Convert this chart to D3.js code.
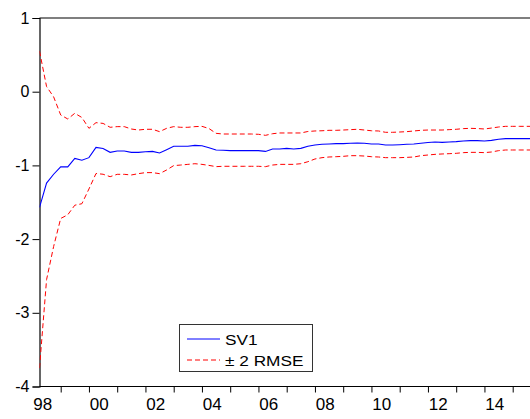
<!DOCTYPE html>
<html>
<head>
<meta charset="utf-8">
<script src="https://cdn.jsdelivr.net/npm/d3@7"></script>
<style>
  body { margin: 0; background: #fff; }
  text { font-family: Arial, "Liberation Sans", sans-serif; fill: #000; }
</style>
</head>
<body>
<svg id="chart" width="530" height="419"></svg>
<script>
// quarterly observations, first one is 1998Q2
const startYear = 1998;
const startQuarter = 2;

const sv1 = [-1.57, -1.24, -1.12, -1.02, -1.02, -0.905, -0.93, -0.895, -0.755, -0.77,
  -0.823, -0.805, -0.805, -0.823, -0.823, -0.814, -0.81, -0.832, -0.787, -0.741,
  -0.741, -0.741, -0.728, -0.733, -0.76, -0.791, -0.795, -0.8, -0.8, -0.8,
  -0.8, -0.8, -0.81, -0.778, -0.778, -0.769, -0.778, -0.769, -0.74, -0.723,
  -0.714, -0.71, -0.705, -0.705, -0.7, -0.696, -0.7, -0.71, -0.71, -0.723,
  -0.723, -0.719, -0.714, -0.71, -0.7, -0.69, -0.683, -0.687, -0.683, -0.678,
  -0.669, -0.664, -0.664, -0.669, -0.66, -0.646, -0.637, -0.637, -0.637, -0.637, -0.637];

const upper = [0.55, 0.07, -0.07, -0.316, -0.37, -0.293, -0.35, -0.497, -0.42, -0.43,
  -0.483, -0.474, -0.474, -0.506, -0.52, -0.51, -0.51, -0.542, -0.497, -0.474,
  -0.483, -0.483, -0.474, -0.47, -0.5, -0.565, -0.574, -0.574, -0.574, -0.574,
  -0.574, -0.578, -0.592, -0.57, -0.56, -0.56, -0.56, -0.56, -0.54, -0.533,
  -0.53, -0.524, -0.524, -0.52, -0.515, -0.51, -0.52, -0.53, -0.533, -0.551,
  -0.551, -0.547, -0.542, -0.533, -0.524, -0.52, -0.52, -0.52, -0.515, -0.51,
  -0.501, -0.497, -0.5, -0.506, -0.493, -0.479, -0.47, -0.47, -0.47, -0.47, -0.47];

const lower = [-3.75, -2.55, -2.1, -1.72, -1.67, -1.54, -1.52, -1.32, -1.11, -1.12,
  -1.153, -1.121, -1.121, -1.13, -1.112, -1.098, -1.098, -1.112, -1.062, -1.003,
  -0.995, -0.986, -0.977, -0.986, -1.0, -1.017, -1.012, -1.012, -1.012, -1.012,
  -1.012, -1.012, -1.017, -0.995, -0.986, -0.986, -0.986, -0.977, -0.95, -0.913,
  -0.895, -0.886, -0.882, -0.877, -0.868, -0.868, -0.873, -0.882, -0.886, -0.895,
  -0.895, -0.895, -0.891, -0.886, -0.868, -0.859, -0.85, -0.845, -0.841, -0.836,
  -0.827, -0.823, -0.823, -0.827, -0.818, -0.8, -0.791, -0.791, -0.791, -0.791, -0.791];

const yTicks = [1, 0, -1, -2, -3, -4];
const yearTicks = d3.range(1999, 2017);
const yearLabels = ["98", "00", "02", "04", "06", "08", "10", "12", "14"];
const legendNames = ["SV1", "\u00b1 2 RMSE"];

const svg = d3.select("#chart");
const plotLeft = 39.5, plotTop = 18, plotBottom = 386.5;
const yearWidth = 28.25;
const t0 = startYear + (startQuarter - 1) / 4;

const x = d3.scaleLinear().domain([t0, t0 + 18]).range([plotLeft, plotLeft + 18 * yearWidth]);
const y = d3.scaleLinear().domain([-4, 1]).range([plotBottom, plotTop]);

const toPoints = (vals) => vals.map((v, i) => ({ t: t0 + i / 4, v: v }));
const line = d3.line().x((d) => x(d.t)).y((d) => y(d.v));

// top border (right side runs off the picture)
svg.append("line").attr("x1", plotLeft).attr("x2", 530).attr("y1", plotTop).attr("y2", plotTop)
  .attr("stroke", "#000").attr("stroke-width", 1.2);

// plain hyphen for negatives, as in the original
const yAxis = d3.axisLeft(y).tickValues(yTicks).tickSize(7).tickPadding(3)
  .tickFormat((d) => String(d));
const gy = svg.append("g").attr("transform", `translate(${plotLeft},0)`).call(yAxis);
gy.select(".domain").attr("stroke-width", 1.2);
gy.selectAll("text").attr("font-size", 16).style("font-family", "Arial, 'Liberation Sans', sans-serif");

const xAxis = d3.axisBottom(x).tickValues(yearTicks.filter((t) => x(t) <= 530))
  .tickSize(6).tickFormat("");
const gx = svg.append("g").attr("transform", `translate(0,${plotBottom})`).call(xAxis);
gx.select(".domain").remove();
gx.append("line").attr("x1", plotLeft).attr("x2", 530).attr("stroke", "#000").attr("stroke-width", 1.2);

// year labels start at the tick of their year
svg.append("g").selectAll("text")
  .data(yearLabels)
  .enter()
  .append("text")
  .attr("x", (d, i) => x(1998 + 2 * i) + 0.8)
  .attr("y", 410)
  .attr("font-size", 17)
  .text((d) => d);

svg.append("clipPath").attr("id", "clip")
  .append("rect").attr("x", plotLeft).attr("y", 0).attr("width", 530 - plotLeft).attr("height", 419);

const lines = svg.append("g").attr("clip-path", "url(#clip)");
lines.append("path").datum(toPoints(upper)).attr("d", line)
  .attr("fill", "none").attr("stroke", "#ff0000").attr("stroke-width", 1).attr("stroke-dasharray", "5,3");
lines.append("path").datum(toPoints(lower)).attr("d", line)
  .attr("fill", "none").attr("stroke", "#ff0000").attr("stroke-width", 1).attr("stroke-dasharray", "5,3");
lines.append("path").datum(toPoints(sv1)).attr("d", line)
  .attr("fill", "none").attr("stroke", "#0000ff").attr("stroke-width", 1.1);

// legend
const legend = svg.append("g");
legend.append("rect").attr("x", 179.5).attr("y", 324.5).attr("width", 133).attr("height", 47)
  .attr("fill", "#fff").attr("stroke", "#333").attr("stroke-width", 1);
const legendStyles = [
  { color: "#0000ff", dash: null },
  { color: "#ff0000", dash: "5,3" }
];
legendNames.forEach((name, i) => {
  const ly = 339 + i * 21;
  legend.append("line").attr("x1", 187).attr("x2", 220).attr("y1", ly).attr("y2", ly)
    .attr("stroke", legendStyles[i].color).attr("stroke-width", 1)
    .attr("stroke-dasharray", legendStyles[i].dash);
  legend.append("text")
    .attr("transform", `translate(225,${ly + 5.5}) scale(1.15,1)`)
    .attr("font-size", 15)
    .text(name);
});
</script>
</body>
</html>
